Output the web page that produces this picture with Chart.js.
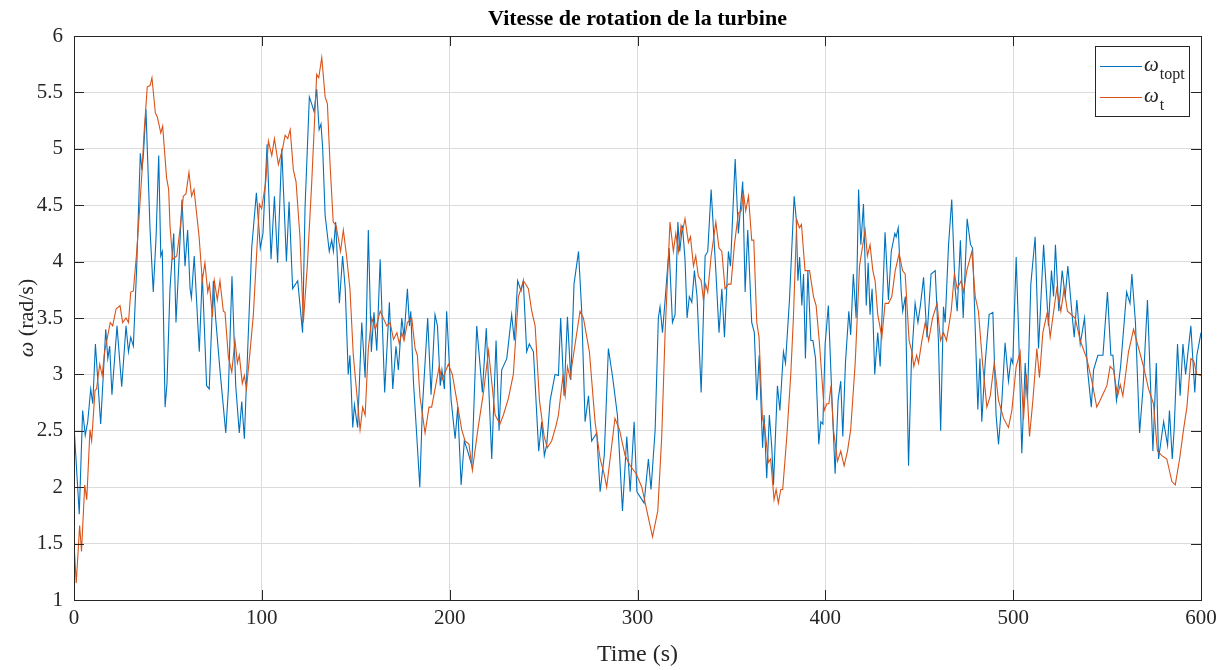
<!DOCTYPE html>
<html>
<head>
<meta charset="utf-8">
<script src="https://cdn.jsdelivr.net/npm/chart.js@4.4.1/dist/chart.umd.min.js"></script>
<style>
  html, body { margin: 0; padding: 0; background: #fff; }
  #wrap { width: 1231px; height: 670px; position: relative; }
</style>
</head>
<body>
<div id="wrap"><canvas id="chart" width="1231" height="670"></canvas></div>
<script>
// omega_topt (blue) : time (s) and speed (rad/s)
const tTopt = [
  0,2.8,4.6,6,7.3,8.9,10,11.4,14.2,16.9,
  18,19,20.2,22.9,25.4,27.7,29,30.2,31.6,33.4,
  35.3,36.2,37,38.3,40.5,42.2,43.7,45.1,46.2,47,
  48.5,49.5,51.1,53.1,54.3,57.5,59.1,60.5,61.8,62.5,
  64,66.7,68.3,70.6,72,74.2,75.4,77.7,80.8,82.2,
  84.1,86.1,88,89.3,90.7,92.5,94.6,97.1,99.2,100.6,
  102.8,104.9,106.7,108.4,110.6,113.1,114.5,116.4,119.1,121.7,
  123,125.3,126.5,127.8,129.2,130.5,131.5,132.4,133.7,134.6,
  135.9,137.2,138.1,139.3,141.3,143,144.4,146,146.9,148.4,
  149.3,151,153.2,155,156.7,158.3,159.7,161.2,163,165.4,
  167.9,169.7,171.4,172.7,174.5,175.7,177.5,178.6,179.3,180.7,
  182.5,184.1,185.5,188.3,190.1,192.2,193.5,195,195.9,197.2,
  198.4,200.8,202.9,204.3,206.1,207.8,209.6,211.8,214.4,217.4,
  219.5,222.4,224.7,226.3,227.7,230.4,233,234.4,236.2,238,
  239.2,241,242.4,244.6,247.4,249,250.4,251.7,253.5,256.1,
  257.9,259.1,260.9,262.7,264.5,266.2,268.6,270.3,272.1,273.9,
  275.6,278.3,280.1,282.3,284.5,286.8,289.3,292,294.3,296.1,
  298.2,299.7,303.5,305.8,307.2,309.4,311.1,312,313.3,314.7,
  316.8,318.6,320,321.5,322.5,323.9,325.3,326.4,327.6,328.9,
  330.3,331.7,333.9,336,337.4,339.2,341.7,343.4,344.9,346.3,
  348.4,349.5,352,353.7,356,357.3,358.7,360.8,362.2,363.5,
  364.8,366.6,367.4,368.8,370.2,371.5,372.4,374.5,375.8,377.7,
  378.8,380.9,383.4,384.5,385.4,386.3,387.5,388.4,389.4,390.7,
  392.3,393.4,394.8,396.5,397.6,398.7,399.9,401.6,403.4,405.2,
  406.8,408.2,409.3,410.7,412.5,413.5,414.9,416.4,417.7,418.9,
  420.3,421.8,422.8,423.8,424.9,426.3,427.9,429.2,431.8,433.6,
  435.1,437,437.7,438.8,440.4,441.2,442.6,444.3,445.8,447.8,
  449.3,450.6,452.3,454.1,456.3,458.5,460.2,461.4,462.9,463.8,
  465.6,467.3,469.1,470.2,471.9,473.4,475.5,477.3,478.4,479.5,
  481.2,482.3,483.3,485.1,487.2,489.2,490.9,492.2,494,495.7,
  497.5,498.9,499.8,501.6,502.8,504.6,506.4,507.6,509.4,511.7,
  513.5,516.2,518.8,520.4,521.5,522.5,524.3,526.1,527.7,529.1,
  531.2,532.5,533.9,535.7,538,539.6,541.6,542.8,545.1,547.8,
  550.2,552,553.1,555,557.2,560.4,562.2,563.2,565.1,567.3,
  569.1,571.5,574.4,576.2,577.4,580.1,582.2,583.2,584.7,585.7,
  587.5,588.9,590.4,591.8,594.6,596.7,597.8,600
];
const wTopt = [
  2.55,1.76,2.68,2.46,2.58,2.87,2.74,3.27,2.56,3.4,
  3.14,3.25,2.82,3.43,2.89,3.43,3.2,3.33,3.25,3.96,
  4.96,4.81,4.96,5.35,4.28,3.73,4.22,4.94,4.05,4.09,
  2.71,2.92,3.76,4.25,3.46,4.55,3.96,4.28,3.76,3.68,
  4.05,3.2,3.89,2.9,2.87,3.83,3.5,3.04,2.48,2.87,
  3.87,2.9,2.48,2.76,2.43,3.23,4.12,4.61,4.12,4.25,
  5.04,4.02,4.58,3.99,5.0,4.0,4.53,3.76,3.83,3.37,
  4.48,5.46,5.4,5.33,5.53,5.17,5.22,5.0,4.41,4.28,
  4.09,4.19,4.09,4.35,3.63,4.05,3.76,3.0,3.17,2.53,
  2.73,2.53,3.46,2.97,4.28,3.2,3.55,3.21,4.02,2.84,
  3.64,2.87,3.25,3.04,3.5,3.33,3.76,3.43,3.56,2.94,
  2.45,2.0,2.71,3.5,2.82,3.53,3.43,2.9,3.04,2.87,
  3.56,2.77,2.43,2.71,2.02,2.41,2.32,2.19,3.43,2.84,
  3.41,2.25,3.3,2.5,3.04,3.14,3.53,3.3,3.83,3.74,
  3.83,3.2,3.27,3.2,2.32,2.58,2.28,2.38,2.77,3.0,
  2.99,3.5,2.81,3.51,2.95,3.8,4.09,3.56,2.58,2.81,
  2.41,2.48,1.96,2.28,3.23,2.97,2.64,1.79,2.45,1.96,
  2.58,1.96,1.86,2.25,1.98,2.51,3.5,3.6,3.37,3.66,
  4.12,3.46,3.53,4.35,4.09,4.32,4.02,3.5,3.69,3.64,
  3.92,3.69,2.84,4.05,4.09,4.64,3.92,3.37,3.76,3.33,
  4.09,3.96,4.91,4.25,4.71,3.73,4.28,3.46,3.37,2.77,
  3.17,2.35,2.64,2.08,2.64,2.35,2.02,2.9,2.68,3.2,
  3.1,3.66,4.58,4.38,3.83,4.04,3.61,3.89,3.14,3.92,
  3.3,3.3,3.14,2.38,2.58,2.56,3.27,3.61,2.84,2.12,
  2.77,2.94,2.45,3.1,3.56,3.35,3.89,3.5,4.64,4.15,
  4.51,3.61,3.99,3.53,3.76,3.0,3.37,3.07,4.26,3.66,
  4.09,4.25,4.22,4.3,3.73,3.56,3.69,2.19,3.1,3.63,
  3.46,3.61,3.86,3.33,3.89,3.92,3.3,2.5,3.6,3.46,
  4.15,4.55,3.76,3.56,4.19,3.5,4.38,4.15,4.12,3.56,
  2.69,3.14,2.58,3.1,3.53,3.55,2.64,2.38,2.77,3.28,
  2.94,3.14,3.1,4.04,3.43,2.3,3.1,2.77,3.8,4.22,
  3.23,4.15,3.43,3.92,3.69,4.15,3.56,3.92,3.69,3.96,
  3.56,3.33,3.66,3.27,3.5,3.04,2.71,3.04,3.17,3.17,
  3.73,3.17,3.17,2.77,3.07,3.73,3.63,3.89,3.46,2.48,
  2.87,3.66,2.32,3.1,2.25,2.58,2.37,2.68,2.25,2.51,
  3.27,2.81,3.27,3.0,3.43,2.84,3.17,3.37
];

// omega_t (orange)
const tT = [
  0,1.2,3,4,5.7,6.8,8.5,9.4,11.2,12,
  13.7,15,16.3,19.3,20.6,22.4,24.5,25.9,27.7,29,
  30.2,31.6,33.4,35.1,36.2,37.3,39,40.5,41.5,43.3,
  44.4,46.2,47.2,49.3,50.4,51.1,52.5,54.7,56.4,58.2,
  59.6,61.2,62.6,63.9,66.6,68.3,69.7,71.2,72.1,73.7,
  74.7,76.3,77.7,79.5,80.4,82.2,84,85.7,87,88,
  89.6,90.7,91.8,93.7,95.5,97.3,98.7,99.9,102.1,103.5,
  105.3,106.7,108.8,111,112.4,113.8,115.1,116.8,118.2,120.3,
  122.1,124.2,126.5,129.2,130.3,131.9,133.7,134.9,136.3,138,
  139.5,141.9,143.4,145.1,146.9,148.7,152.3,153.7,155,156.7,
  158.5,160.5,163,166.5,168.3,170.1,171.9,173.2,174.5,175.7,
  177.5,179.8,181.6,182.8,184.2,186.9,189,190.4,192.2,194.4,
  195.9,199.3,201.4,203.8,206.4,208.2,210.3,212.1,215,218,
  220.7,224.2,226.8,228.6,231.3,233.9,236.6,239.3,241.9,243.7,
  245.5,247.8,250.3,252,254.3,256.7,257.9,260.2,261.5,262.7,
  264.1,265.9,269.4,271.2,274.4,277.4,280.1,282.2,283.6,285.4,
  288,290.4,293.4,296.1,299.3,302.3,305,306.7,308,310.8,
  312.9,314.7,317.3,319.1,320.4,321.8,323.2,324.1,325.3,327.1,
  328.2,329.8,331,332.4,333.9,335.1,336.3,337.4,339.2,340.4,
  341.7,343.4,344.9,346.6,348.4,349.8,351.6,353.7,355.2,356.4,
  357.6,359.1,360.8,361.9,363.5,364.7,366.5,367.6,369.7,370.9,
  372.7,373.8,375,376.3,377.3,379.5,381.6,383,384.8,386.2,
  387.3,389.2,391.6,393.7,395.1,396.9,399.4,400.8,401.9,403,
  404.3,406.5,408.2,410,411.8,413.5,415.9,418.2,419.4,421.2,
  422.4,423.8,425.3,426.5,427.9,430.1,431.8,433.6,435.4,437.2,
  439.3,441.1,442.5,444.6,446.1,447.1,448.6,449.6,451.4,453.2,
  455,457.1,459.5,461.3,462.9,464.5,467,468.7,470.2,472.3,
  473.6,475.3,478,479.8,481.5,483.7,486,487.8,489.9,492.2,
  494.9,497.5,499.3,501.6,503.7,505.5,507,508.7,510.5,512.6,
  514,515.8,518.3,519.7,523.2,525.4,527.1,528.9,533,535.7,
  539.2,541.9,544.5,546.3,549.9,551.6,553.4,555.6,557,558.4,
  561.4,564.1,569.4,572.1,574.7,576.8,579.2,581.8,584.5,586.3,
  588.6,590.7,592.5,594.6,596.1,597.8,600
];
const wT = [
  1.5,1.15,1.66,1.43,2.02,1.89,2.51,2.41,2.86,2.87,
  3.09,2.99,3.2,3.46,3.43,3.58,3.61,3.46,3.5,3.46,
  3.73,3.74,4.09,4.51,4.8,5.14,5.55,5.56,5.63,5.32,
  5.28,5.14,5.2,4.74,4.64,4.32,4.02,4.05,4.28,4.58,
  4.6,4.79,4.58,4.64,4.22,3.83,3.99,3.73,3.8,3.51,
  3.83,3.66,3.83,3.56,3.55,3.15,3.02,3.3,3.1,3.17,
  2.92,2.99,2.87,3.2,3.53,4.09,4.51,4.47,4.71,5.07,
  4.94,5.09,4.86,5.0,5.12,5.09,5.17,4.81,4.71,4.22,
  3.46,3.96,4.68,5.66,5.63,5.81,5.46,5.4,4.87,4.35,
  4.32,4.09,4.28,4.05,3.76,3.17,2.51,2.71,2.64,3.23,
  3.5,3.4,3.56,3.43,3.46,3.31,3.37,3.27,3.37,3.3,
  3.46,3.5,3.23,3.17,2.8,2.48,2.71,2.71,2.87,3.07,
  2.95,3.09,3.0,2.77,2.51,2.41,2.38,2.15,2.51,2.84,
  3.21,2.64,2.56,2.64,2.79,3.0,3.69,3.83,3.76,3.56,
  3.43,2.77,2.45,2.35,2.41,2.55,2.64,2.97,2.81,3.07,
  2.97,3.17,3.56,3.5,3.2,2.58,2.25,2.12,2.0,2.25,
  2.61,2.51,2.28,2.19,2.12,2.0,1.79,1.66,1.56,1.79,
  2.45,3.37,4.35,4.09,4.25,4.09,4.32,4.28,4.38,4.17,
  4.22,3.96,4.05,3.87,3.83,3.66,3.8,3.73,4.05,4.19,
  4.35,4.12,4.09,3.76,3.8,3.8,4.15,4.43,4.45,4.61,
  4.45,4.58,4.19,4.19,3.46,3.33,2.61,2.55,2.22,2.25,
  1.89,1.98,1.86,1.98,1.98,2.45,3.0,3.5,4.37,4.3,
  4.33,3.92,3.92,3.69,3.61,3.27,2.68,2.74,2.74,2.9,
  2.51,2.23,2.32,2.19,2.32,2.51,3.1,3.96,4.09,4.28,
  4.05,4.15,3.92,3.83,3.53,3.33,3.63,3.63,3.69,3.92,
  4.07,3.92,3.89,3.3,3.2,3.07,3.17,3.1,3.3,3.46,
  3.3,3.5,3.63,3.3,3.37,3.3,3.56,3.89,3.76,3.83,
  3.73,3.92,4.09,3.69,3.56,3.1,2.71,2.81,3.1,2.77,
  2.61,2.53,2.68,3.07,3.2,2.6,3.0,2.45,2.77,3.23,
  2.97,3.37,3.56,3.33,3.76,3.56,3.76,3.56,3.5,3.3,
  3.14,2.94,2.71,2.77,2.9,3.07,3.04,2.81,2.91,2.81,
  3.2,3.4,3.07,2.87,2.74,2.32,2.28,2.25,2.05,2.02,
  2.25,2.51,2.71,3.14,3.12,3.0,2.99
];

const xTicks = [0, 100, 200, 300, 400, 500, 600];
const yTicks = [1, 1.5, 2, 2.5, 3, 3.5, 4, 4.5, 5, 5.5, 6];
const titleText = 'Vitesse de rotation de la turbine';
const xTitle = 'Time (s)';
const yTitleSym = 'ω';
const yTitleUnit = ' (rad/s)';
const legendSubs = ['topt', 't'];

const BLUE = '#0072BD';
const ORANGE = '#D95319';
const AXIS = '#262626';
const SERIF = "'Liberation Serif', 'Times New Roman', serif";

const toXY = (ts, ws) => ts.map((t, i) => ({ x: t, y: ws[i] }));

// MATLAB-like box, inward ticks, title, axis labels and legend
const matlabFrame = {
  id: 'matlabFrame',
  afterDraw(chart) {
    const { ctx, chartArea: a, scales } = chart;
    const tick = 10;
    ctx.save();
    ctx.strokeStyle = AXIS;
    ctx.lineWidth = 1;
    ctx.beginPath();
    xTicks.forEach(v => {
      const x = Math.round(scales.x.getPixelForValue(v)) + 0.5;
      ctx.moveTo(x, a.bottom); ctx.lineTo(x, a.bottom - tick);
      ctx.moveTo(x, a.top); ctx.lineTo(x, a.top + tick);
    });
    yTicks.forEach(v => {
      const y = Math.round(scales.y.getPixelForValue(v)) + 0.5;
      ctx.moveTo(a.left, y); ctx.lineTo(a.left + tick, y);
      ctx.moveTo(a.right, y); ctx.lineTo(a.right - tick, y);
    });
    ctx.stroke();
    ctx.strokeRect(Math.round(a.left) + 0.5, Math.round(a.top) + 0.5,
      Math.round(a.right - a.left), Math.round(a.bottom - a.top));

    const cx = (a.left + a.right) / 2;
    ctx.fillStyle = '#000';
    ctx.textAlign = 'center';
    ctx.textBaseline = 'alphabetic';
    ctx.font = `bold 22px ${SERIF}`;
    ctx.fillText(titleText, cx, 25);

    ctx.fillStyle = AXIS;
    ctx.font = `24px ${SERIF}`;
    ctx.fillText(xTitle, cx, 661);

    // y title, rotated
    ctx.save();
    ctx.translate(33, (a.top + a.bottom) / 2);
    ctx.rotate(-Math.PI / 2);
    ctx.font = `italic 22px ${SERIF}`;
    const w1 = ctx.measureText(yTitleSym).width;
    ctx.font = `22px ${SERIF}`;
    const w2 = ctx.measureText(yTitleUnit).width;
    const x0 = -(w1 + w2) / 2;
    ctx.textAlign = 'left';
    ctx.font = `italic 22px ${SERIF}`;
    ctx.fillText(yTitleSym, x0, 0);
    ctx.font = `22px ${SERIF}`;
    ctx.fillText(yTitleUnit, x0 + w1, 0);
    ctx.restore();

    // legend
    const lx = 1095.5, ly = 46.5, lw = 94, lh = 70;
    ctx.fillStyle = '#fff';
    ctx.fillRect(lx, ly, lw, lh);
    ctx.strokeStyle = AXIS;
    ctx.strokeRect(lx, ly, lw, lh);
    chart.data.datasets.slice().sort((p, q) => p.legendRow - q.legendRow).forEach((ds, i) => {
      const y = 66 + i * 31;
      ctx.strokeStyle = ds.borderColor;
      ctx.beginPath();
      ctx.moveTo(1100, y + 0.5); ctx.lineTo(1142, y + 0.5);
      ctx.stroke();
      ctx.fillStyle = AXIS;
      ctx.textAlign = 'left';
      ctx.font = `italic 21px ${SERIF}`;
      ctx.fillText(yTitleSym, 1144, y + 5);
      const ww = ctx.measureText(yTitleSym).width;
      ctx.font = `16px ${SERIF}`;
      ctx.fillText(legendSubs[ds.legendRow], 1144 + ww + 1, y + 13);
    });
    ctx.restore();
  }
};

new Chart(document.getElementById('chart'), {
  type: 'line',
  data: {
    datasets: [
      {
        label: 'ω_topt',
        legendRow: 0,
        data: toXY(tTopt, wTopt),
        borderColor: BLUE,
        borderWidth: 1.1,
        pointRadius: 0,
        tension: 0,
        order: 1
      },
      {
        label: 'ω_t',
        legendRow: 1,
        data: toXY(tT, wT),
        borderColor: ORANGE,
        borderWidth: 1.1,
        pointRadius: 0,
        tension: 0,
        order: 0
      }
    ]
  },
  options: {
    responsive: false,
    animation: false,
    devicePixelRatio: 1,
    layout: { padding: { top: 36, right: 30, left: 0, bottom: 0 } },
    plugins: { legend: { display: false }, tooltip: { enabled: false }, title: { display: false } },
    scales: {
      x: {
        type: 'linear',
        min: 0,
        max: 600,
        afterBuildTicks: s => { s.ticks = xTicks.map(v => ({ value: v })); },
        afterFit: s => { s.height = 70; },
        grid: { color: '#dcdcdc', lineWidth: 1, drawTicks: false },
        border: { display: false },
        ticks: { color: AXIS, padding: 6, maxRotation: 0, font: { family: SERIF, size: 21 },
                 callback: v => String(v) }
      },
      y: {
        type: 'linear',
        min: 1,
        max: 6,
        afterBuildTicks: s => { s.ticks = yTicks.map(v => ({ value: v })); },
        afterFit: s => { s.width = 74; },
        grid: { color: '#dcdcdc', lineWidth: 1, drawTicks: false },
        border: { display: false },
        ticks: { color: AXIS, padding: 11, font: { family: SERIF, size: 21 },
                 callback: v => String(v) }
      }
    }
  },
  plugins: [matlabFrame]
});
</script>
</body>
</html>
